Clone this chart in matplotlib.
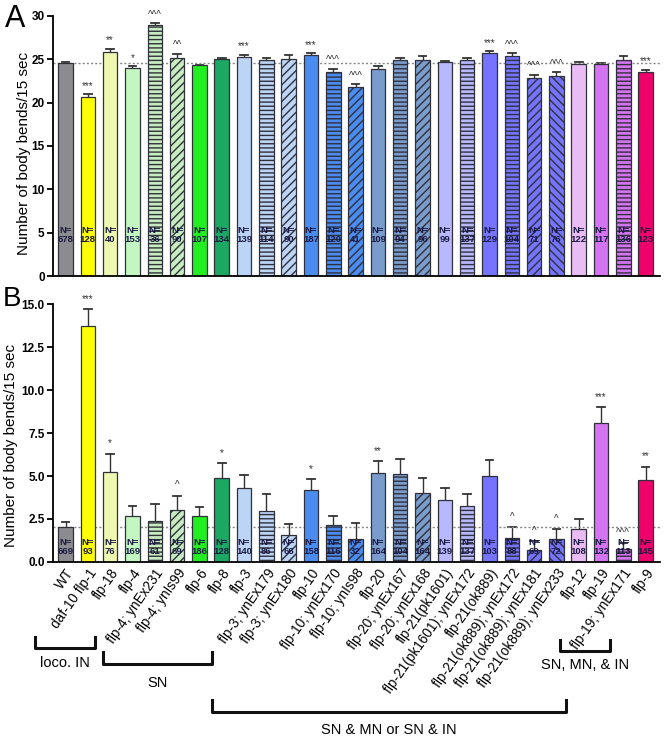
import numpy as np
import matplotlib.pyplot as plt

# strain names (panel B x labels)
strains = ["WT", "daf-10 flp-1", "flp-18", "flp-4", "flp-4; ynEx231", "flp-4; ynIs99",
           "flp-6", "flp-8", "flp-3", "flp-3; ynEx179", "flp-3; ynEx180", "flp-10",
           "flp-10; ynEx170", "flp-10; ynIs98", "flp-20", "flp-20; ynEx167",
           "flp-20; ynEx168", "flp-21(pk1601)", "flp-21(pk1601); ynEx172",
           "flp-21(ok889)", "flp-21(ok889); ynEx172", "flp-21(ok889); ynEx181",
           "flp-21(ok889); ynEx233", "flp-12", "flp-19", "flp-19; ynEx171", "flp-9"]

# panel A: mean and upper error bar end
a_mean = [24.6, 20.6, 25.8, 24.0, 28.9, 25.2, 24.3, 25.0, 25.3, 24.9, 25.0, 25.45, 23.5,
          21.75, 23.9, 24.9, 24.9, 24.7, 24.95, 25.7, 25.35, 22.85, 23.05, 24.45, 24.45,
          24.95, 23.5]
a_top = [24.65, 20.95, 26.2, 24.2, 29.15, 25.65, 24.35, 25.2, 25.5, 25.2, 25.5, 25.7, 23.9,
         22.15, 24.2, 25.2, 25.35, 24.85, 25.2, 25.9, 25.7, 23.2, 23.5, 24.65, 24.6,
         25.35, 23.8]
a_n = [678, 128, 40, 153, 36, 90, 107, 134, 139, 114, 90, 187, 120, 41, 109, 94, 96, 99,
       137, 129, 104, 71, 76, 122, 117, 136, 123]
a_sig = ["", "***", "**", "*", "^^^", "^^", "", "", "***", "", "", "***", "^^^", "^^^",
         "", "", "", "", "", "***", "^^^", "^^^", "^^^", "", "", "", "***"]

# panel B
b_mean = [2.03, 13.7, 5.25, 2.7, 2.36, 3.04, 2.65, 4.9, 4.3, 2.98, 1.55, 4.2, 2.17, 1.34,
          5.2, 5.1, 4.03, 3.6, 3.26, 5.0, 1.38, 0.68, 1.32, 1.92, 8.1, 0.74, 4.77]
b_top = [2.3, 14.7, 6.3, 3.24, 3.35, 3.86, 3.2, 5.74, 5.06, 3.95, 2.19, 4.84, 2.69, 2.27,
         5.87, 6.0, 4.88, 4.28, 3.93, 5.93, 2.03, 1.2, 1.92, 2.52, 9.03, 1.09, 5.54]
b_n = [669, 93, 76, 169, 61, 69, 186, 128, 140, 86, 66, 158, 116, 32, 164, 104, 164, 139,
       137, 103, 88, 69, 72, 108, 132, 113, 145]
b_sig = ["", "***", "*", "", "", "^", "", "*", "", "", "", "*", "", "", "**", "", "", "",
         "", "", "^", "^", "^", "", "***", "^^^", "**"]

colors = ['#8c8c90', '#ffff00', '#eef8b0', '#c2f7c2', '#c6ecc0', '#c6ecc0', '#22ee22',
          '#1aa862', '#bcd4f5', '#bcd4f5', '#bcd4f5', '#4a8cf0', '#4a8cf0', '#4a8cf0',
          '#7a9ccc', '#7a9ccc', '#7a9ccc', '#b8b8ff', '#b8b8ff', '#7474ff', '#7474ff',
          '#7474ff', '#7474ff', '#eabcf5', '#d474f0', '#d474f0', '#f0006a']
hatches = ['', '', '', '', '----', '////', '', '', '', '----', '////', '', '----', '////',
           '', '----', '////', '', '----', '', '----', '////', '\\\\\\\\', '', '', '----', '']

plt.rcParams['hatch.linewidth'] = 1.0
plt.rcParams['font.family'] = ['Liberation Sans', 'DejaVu Sans']
fig = plt.figure(figsize=(6.66, 7.41), dpi=100)
axA = fig.add_axes([0.0796, 0.6275, 0.911, 0.351])
axB = fig.add_axes([0.0796, 0.2416, 0.911, 0.348])

x = np.arange(len(strains))


def panel(ax, mean, top, ns, sig, ymax, step, fmt, ntxt_y, sig_off):
    for i in x:
        ax.bar(i, mean[i], width=0.65, color=colors[i], edgecolor='#30303a',
               linewidth=0.9, hatch=hatches[i], zorder=2)
        ax.plot([i, i], [mean[i], top[i]], color='#333333', lw=1.0, zorder=1)
        ax.plot([i - 0.17, i + 0.17], [top[i], top[i]], color='#333333', lw=1.3, zorder=1)
        if sig[i]:
            ax.text(i, top[i] + sig_off, sig[i], ha='center', va='bottom', fontsize=7,
                    color='#333333')
        ax.text(i, ntxt_y, "N=\n%d" % ns[i], ha='center', va='center', fontsize=6.8,
                color='#1a1a44', fontweight='bold', linespacing=1.0, zorder=3)
    ax.axhline(mean[0], color='#888888', ls=(0, (1.5, 1.5)), lw=1.0, zorder=1.5)
    ax.set_xlim(-0.56, len(strains) - 0.37)
    ax.set_ylim(0, ymax)
    ticks = np.arange(0, ymax + 0.01, step)
    ax.set_yticks(ticks)
    ax.set_yticklabels([fmt % t for t in ticks], fontsize=8.5,
                       family=['Liberation Sans Narrow', 'Liberation Sans'], fontweight='bold')
    for s in ['top', 'right']:
        ax.spines[s].set_visible(False)
    ax.spines['left'].set_linewidth(1.3)
    ax.spines['bottom'].set_linewidth(1.3)
    ax.tick_params(axis='y', width=1.3, length=4, pad=2)
    ax.set_ylabel("Number of body bends/15 sec", fontsize=11)


panel(axA, a_mean, a_top, a_n, a_sig, 30, 5, "%d", 4.7, 0.4)
axA.set_xticks([])
axA.yaxis.set_label_coords(-0.037, 0.47)

panel(axB, b_mean, b_top, b_n, b_sig, 15, 2.5, "%.1f", 0.85, 0.3)
axB.set_xticks(x)
axB.set_xticklabels(strains, rotation=55, ha='right', rotation_mode='anchor', fontsize=9.8)
axB.tick_params(axis='x', length=0, pad=3)
axB.yaxis.set_label_coords(-0.058, 0.45)

fig.text(0.008, 0.995, "A", fontsize=22, va='top')
fig.text(0.004, 0.614, "B", fontsize=20, va='top')


# brackets under the labels, in pixel coords of the figure
def bracket(x0, x1, ytop, ybot, label, ylab):
    W, H = 666.0, 741.0
    fig.add_artist(plt.Line2D([x0 / W, x0 / W, x1 / W, x1 / W],
                              [1 - ytop / H, 1 - ybot / H, 1 - ybot / H, 1 - ytop / H],
                              color='#111111', lw=2.2))
    fig.text((x0 + x1) / 2 / W, 1 - ylab / H, label, ha='center', va='center', fontsize=10.5,
             family=['Liberation Sans Narrow', 'Liberation Sans'])


bracket(35, 95, 637, 648, "loco. IN", 663)
bracket(103, 212, 652, 664, "SN", 683)
bracket(212, 566, 700, 712, "SN & MN or SN & IN", 730)
bracket(560, 610, 640, 651, "SN, MN, & IN", 665)

fig.savefig("out.png", dpi=100)
